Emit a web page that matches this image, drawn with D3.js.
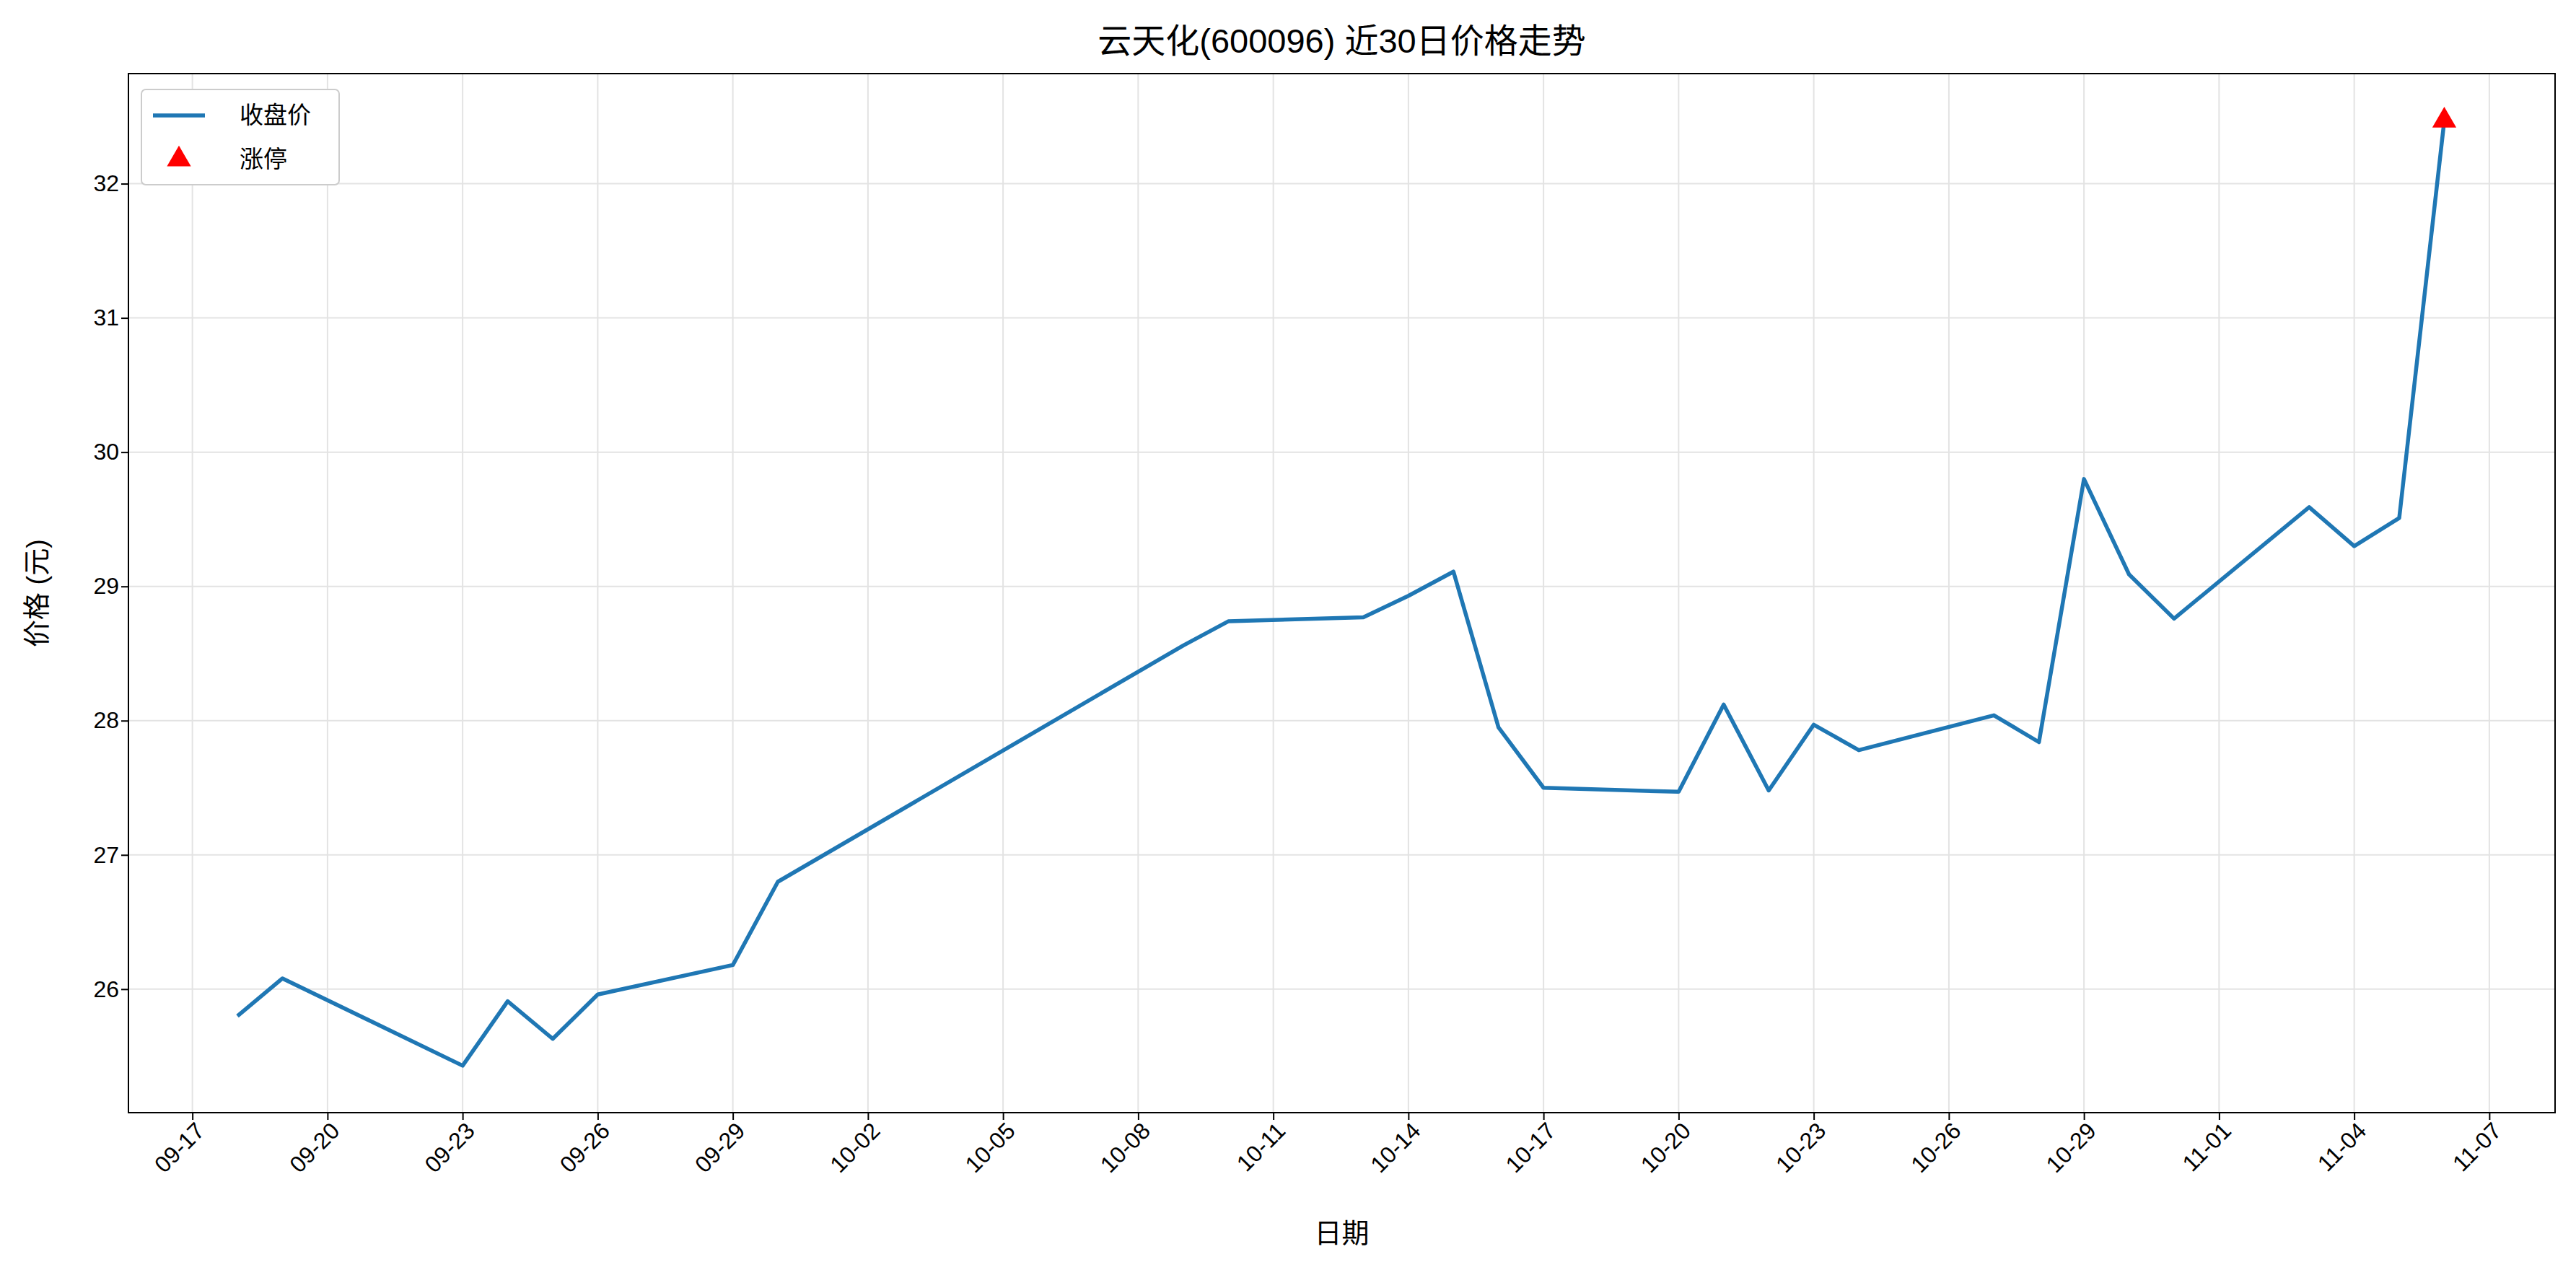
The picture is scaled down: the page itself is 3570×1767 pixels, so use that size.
<!DOCTYPE html>
<html><head><meta charset="utf-8">
<script src="https://cdn.jsdelivr.net/npm/d3@7"></script>
<style>body{margin:0;background:#fff}text{font-family:"Liberation Sans","Noto Sans CJK SC",sans-serif}</style>
</head><body><svg id="c" width="3570" height="1767"></svg>
<script>
const dates = ["2024-09-18","2024-09-19","2024-09-23","2024-09-24","2024-09-25","2024-09-26","2024-09-29","2024-09-30",
  "2024-10-09","2024-10-10","2024-10-13","2024-10-14","2024-10-15","2024-10-16","2024-10-17","2024-10-20","2024-10-21",
  "2024-10-22","2024-10-23","2024-10-24","2024-10-27","2024-10-28","2024-10-29","2024-10-30","2024-10-31","2024-11-03",
  "2024-11-04","2024-11-05","2024-11-06"];
const closes = [25.80,26.08,25.43,25.91,25.63,25.96,26.18,26.80,28.56,28.74,28.77,28.93,29.11,27.95,27.50,27.47,28.12,
  27.48,27.97,27.78,28.04,27.84,29.80,29.09,28.76,29.59,29.30,29.51,32.47];
const limitUp = [{date:"2024-11-06", value:32.47}];
const yTicks = [26,27,28,29,30,31,32];

const parse = d3.timeParse("%Y-%m-%d");
const data = dates.map((d,i)=>({date:parse(d), value:closes[i]}));
const svg = d3.select("#c");
const L=178,R=3541,T=102,B=1542;
const day = 86400000;
const x = d3.scaleTime().domain([new Date(parse("2024-09-17")-1.42*day), new Date(+parse("2024-11-07")+1.46*day)]).range([L,R]);
const y = d3.scaleLinear().domain([25.08,32.82]).range([B,T]);
const xTicks = d3.range(0,52,3).map(k=>new Date(+parse("2024-09-17")+k*day));

// grid
svg.append("g").selectAll("line").data(xTicks).join("line")
  .attr("x1",d=>x(d)).attr("x2",d=>x(d)).attr("y1",T).attr("y2",B).attr("stroke","#e3e3e3").attr("stroke-width",2);
svg.append("g").selectAll("line").data(yTicks).join("line")
  .attr("y1",d=>y(d)).attr("y2",d=>y(d)).attr("x1",L).attr("x2",R).attr("stroke","#e3e3e3").attr("stroke-width",2);

// axes
const xa = svg.append("g").attr("transform",`translate(0,${B})`)
  .call(d3.axisBottom(x).tickValues(xTicks).tickFormat(d3.timeFormat("%m-%d")).tickSize(10).tickSizeOuter(0));
xa.selectAll("text").attr("font-size",32).attr("text-anchor","end").attr("dx","-0.2em").attr("dy","0.6em")
  .attr("transform","rotate(-45)").attr("fill","#000");
const ya = svg.append("g").attr("transform",`translate(${L},0)`)
  .call(d3.axisLeft(y).tickValues(yTicks).tickSize(10).tickSizeOuter(0));
ya.selectAll("text").attr("font-size",32).attr("fill","#000");
svg.selectAll(".domain").remove();
svg.selectAll(".tick line").attr("stroke","#000").attr("stroke-width",2);
svg.append("rect").attr("x",L).attr("y",T).attr("width",R-L).attr("height",B-T).attr("fill","none").attr("stroke","#000").attr("stroke-width",2);

// line
svg.append("path").datum(data).attr("fill","none").attr("stroke","#1f77b4").attr("stroke-width",5.5)
  .attr("stroke-linejoin","round").attr("d",d3.line().x(d=>x(d.date)).y(d=>y(d.value)));
svg.selectAll(".up").data(limitUp).join("path").attr("fill","red")
  .attr("transform",d=>`translate(${x(parse(d.date))},${y(d.value)})`)
  .attr("d",d3.symbol(d3.symbolTriangle,480));

// texts
svg.append("text").attr("x",(L+R)/2).attr("y",73).attr("text-anchor","middle").attr("font-size",47).text("云天化(600096) 近30日价格走势");
svg.append("text").attr("x",(L+R)/2).attr("y",1722).attr("text-anchor","middle").attr("font-size",38).text("日期");
svg.append("text").attr("transform",`translate(64,${(T+B)/2}) rotate(-90)`).attr("text-anchor","middle").attr("font-size",38).text("价格 (元)");

// legend
const lg = svg.append("g").attr("transform","translate(196,124)");
lg.append("rect").attr("width",274).attr("height",132).attr("rx",6).attr("fill","#fff").attr("stroke","#ccc").attr("stroke-width",2);
lg.append("line").attr("x1",16).attr("x2",88).attr("y1",36).attr("y2",36).attr("stroke","#1f77b4").attr("stroke-width",5.5);
lg.append("path").attr("transform","translate(52,97)").attr("fill","red").attr("d",d3.symbol(d3.symbolTriangle,480));
lg.append("text").attr("x",136).attr("y",47).attr("font-size",33).text("收盘价");
lg.append("text").attr("x",136).attr("y",108).attr("font-size",33).text("涨停");
</script></body></html>
